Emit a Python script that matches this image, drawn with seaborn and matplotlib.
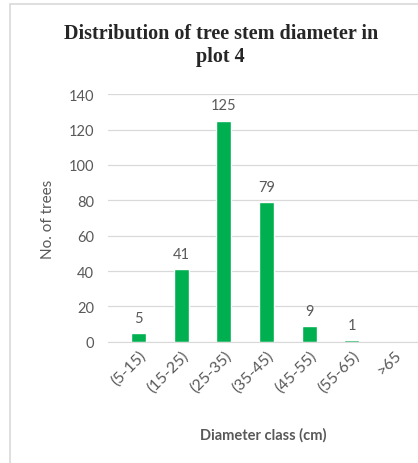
import matplotlib
matplotlib.use("Agg")
import matplotlib.pyplot as plt
import seaborn as sns
import pandas as pd
from matplotlib.lines import Line2D

# Data
diameter_classes = ["(5-15)", "(15-25)", "(25-35)", "(35-45)", "(45-55)", "(55-65)", ">65"]
tree_counts = [5, 41, 125, 79, 9, 1, 0]
y_ticks = [0, 20, 40, 60, 80, 100, 120, 140]

GREEN = "#00b050"
TEXT_GRAY = "#595959"
GRID_GRAY = "#d9d9d9"

sns.set_style("white")
plt.rcParams["font.family"] = ["Lato", "DejaVu Sans"]

df = pd.DataFrame({"cls": diameter_classes, "n": tree_counts})

fig = plt.figure(figsize=(4.18, 4.64), dpi=100)
ax = fig.add_axes([0.258, 0.261, 0.742, 0.534])

sns.barplot(data=df, x="cls", y="n", color=GREEN, width=0.35, saturation=1, ax=ax)

ax.set_ylim(0, 140)
ax.set_xlim(-0.72, 6.55)
ax.set_yticks(y_ticks)
ax.grid(axis="y", color=GRID_GRAY, linewidth=0.9)
ax.set_axisbelow(True)
for s in ["top", "right", "left"]:
    ax.spines[s].set_visible(False)
ax.spines["bottom"].set_color(GRID_GRAY)
ax.tick_params(axis="both", length=0, colors=TEXT_GRAY, labelsize=10.5)
ax.tick_params(axis="y", pad=10)
ax.tick_params(axis="x", labelsize=11.5, pad=4)
plt.setp(ax.get_xticklabels(), rotation=45, ha="right", rotation_mode="anchor")

# data labels (skip the empty class)
for i, v in enumerate(tree_counts):
    if v > 0:
        ax.annotate(str(v), (i, v), xytext=(0, 6), textcoords="offset points",
                    ha="center", va="bottom", fontsize=10.5, color=TEXT_GRAY)

ax.set_xlabel("Diameter class (cm)", fontsize=10.5, color=TEXT_GRAY, labelpad=24,
              fontweight="bold")
ax.set_ylabel("No. of trees", fontsize=11, color=TEXT_GRAY, labelpad=10)

fig.text(0.528, 0.902, "Distribution of tree stem diameter in\nplot 4", ha="center", va="center",
         fontsize=14.5, fontweight="bold", family="Liberation Serif", linespacing=1.2)

# chart frame
fig.add_artist(Line2D([10 / 418, 10 / 418], [0, 1 - 5 / 464], color="#d9d9d9", lw=1.2))
fig.add_artist(Line2D([10 / 418, 1], [1 - 5 / 464, 1 - 5 / 464], color="#d9d9d9", lw=1.2))

fig.savefig("out.png", dpi=100, facecolor="white")
